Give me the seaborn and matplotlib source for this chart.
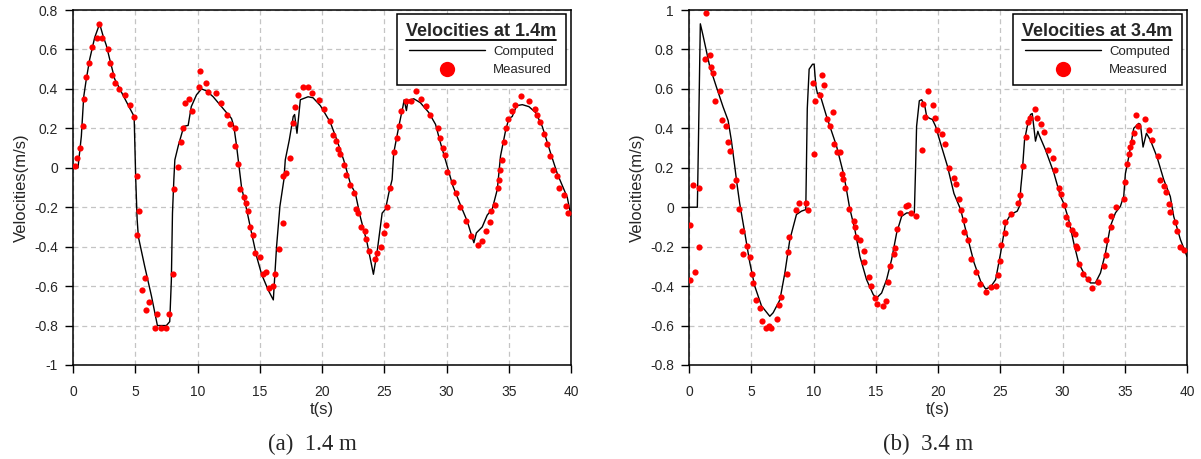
import numpy as np
import pandas as pd
import matplotlib
matplotlib.use("Agg")
import matplotlib.pyplot as plt
from matplotlib.lines import Line2D
import seaborn as sns

# ---------------- data ----------------
# Panel (a) 1.4 m : computed
t_comp_a = [0, 0.4, 0.67, 0.86, 1.07, 1.34, 1.74, 2.14, 2.41, 2.68, 2.95, 3.35, 4.0, 4.91,
            5.04, 5.15, 5.25, 5.76, 6.3, 6.78, 7.5, 7.77, 7.9, 7.99, 8.1, 8.18, 8.45, 8.9,
            9.25, 9.5, 9.92, 10.32, 10.72, 11.26, 12.06, 12.73, 12.92, 13.14, 13.54, 13.94,
            14.34, 14.75, 15.15, 15.68, 16.09, 16.35, 16.62, 16.94, 17.05, 17.37, 17.69, 17.8,
            17.99, 18.26, 18.88, 19.28, 19.87, 20.67, 21.2, 21.74, 22.28, 22.68, 23.08, 23.62,
            24.13, 24.42, 24.83, 25.1, 25.36, 25.63, 25.76, 26.17, 26.5, 26.6, 26.78, 26.9,
            27.37, 27.9, 28.58, 29.12, 29.52, 30.05, 30.5, 31.13, 31.66, 32.2, 32.4, 32.87,
            33.27, 33.67, 34.08, 34.34, 34.75, 35.01, 35.28, 35.63, 36.09, 36.62, 37.16,
            37.69, 38.36, 38.9, 39.7, 40.0]
v_comp_a = [0, 0, 0.16, 0.36, 0.45, 0.55, 0.66, 0.73, 0.67, 0.62, 0.55, 0.45, 0.37, 0.26,
            -0.06, -0.26, -0.35, -0.50, -0.65, -0.80, -0.80, -0.78, -0.57, -0.23, -0.06, 0.04,
            0.11, 0.21, 0.215, 0.31, 0.37, 0.40, 0.39, 0.36, 0.30, 0.25, 0.21, 0.11, -0.10,
            -0.21, -0.33, -0.45, -0.54, -0.62, -0.67, -0.40, -0.195, -0.06, 0.04, 0.14, 0.26,
            0.27, 0.175, 0.345, 0.36, 0.355, 0.315, 0.23, 0.14, 0.04, -0.08, -0.13, -0.25,
            -0.38, -0.54, -0.43, -0.23, -0.21, -0.13, -0.06, 0.075, 0.21, 0.31, 0.345, 0.29,
            0.34, 0.35, 0.33, 0.28, 0.22, 0.125, 0.01, -0.09, -0.19, -0.27, -0.38, -0.33,
            -0.30, -0.24, -0.21, -0.11, 0.06, 0.19, 0.25, 0.26, 0.315, 0.32, 0.31, 0.28,
            0.21, 0.075, -0.03, -0.15, -0.245]

# Panel (a) 1.4 m : measured
t_meas_a = [0.16, 0.32, 0.54, 0.83, 0.88, 1.07, 1.29, 1.53, 1.90, 2.12, 2.33, 2.82, 2.95,
            3.16, 3.40, 3.70, 4.16, 4.58, 4.91, 5.15, 5.28, 5.12, 5.82, 5.58, 6.11, 5.90,
            6.78, 6.62, 7.08, 7.48, 7.75, 8.02, 8.14, 8.45, 8.69, 8.85, 8.98, 9.28, 9.57,
            10.13, 10.19, 10.70, 10.88, 11.45, 11.85, 12.39, 12.60, 12.98, 12.98, 13.27,
            13.43, 13.70, 13.86, 14.02, 14.18, 14.48, 14.58, 15.04, 15.23, 15.47, 15.76,
            16.09, 16.22, 16.51, 16.84, 16.86, 17.13, 17.43, 17.64, 17.80, 18.10, 18.5,
            18.85, 19.2, 19.78, 20.19, 20.62, 20.91, 21.15, 21.31, 21.47, 21.80, 21.93,
            22.22, 22.6, 22.73, 22.9, 23.1, 23.43, 23.5, 23.8, 24.24, 24.42, 24.72, 25.01,
            25.17, 25.23, 25.47, 25.82, 26.03, 26.19, 26.33, 26.73, 27.13, 27.56, 27.99,
            28.34, 28.69, 29.30, 29.46, 29.68, 29.89, 30.05, 30.5, 30.8, 31.1, 31.58, 31.93,
            32.57, 32.87, 33.16, 33.46, 33.54, 33.91, 34.13, 34.2, 34.29, 34.42, 34.58,
            34.75, 34.93, 35.25, 35.47, 36.0, 36.62, 37.08, 37.24, 37.48, 37.83, 38.04,
            38.34, 38.55, 38.87, 39.03, 39.46, 39.57, 39.78]
v_meas_a = [0.01, 0.05, 0.10, 0.21, 0.35, 0.46, 0.53, 0.61, 0.66, 0.73, 0.66, 0.60, 0.53,
            0.47, 0.43, 0.40, 0.37, 0.32, 0.26, -0.04, -0.22, -0.34, -0.56, -0.62, -0.68,
            -0.72, -0.74, -0.81, -0.81, -0.81, -0.74, -0.54, -0.11, 0.005, 0.13, 0.20, 0.33,
            0.35, 0.29, 0.41, 0.49, 0.43, 0.385, 0.38, 0.33, 0.27, 0.22, 0.20, 0.11, 0.02,
            -0.11, -0.15, -0.18, -0.22, -0.30, -0.34, -0.43, -0.45, -0.54, -0.53, -0.61,
            -0.60, -0.54, -0.41, -0.28, -0.044, -0.027, 0.05, 0.225, 0.31, 0.37, 0.41, 0.41,
            0.38, 0.345, 0.30, 0.235, 0.166, 0.134, 0.095, 0.07, 0.012, -0.035, -0.086,
            -0.13, -0.21, -0.23, -0.30, -0.32, -0.36, -0.42, -0.46, -0.43, -0.40, -0.33,
            -0.29, -0.20, -0.10, 0.08, 0.15, 0.21, 0.29, 0.34, 0.34, 0.39, 0.35, 0.315,
            0.27, 0.20, 0.15, 0.10, 0.066, -0.02, -0.07, -0.13, -0.20, -0.27, -0.345, -0.39,
            -0.37, -0.32, -0.275, -0.22, -0.19, -0.10, -0.06, -0.01, 0.04, 0.13, 0.20,
            0.245, 0.29, 0.32, 0.365, 0.34, 0.30, 0.27, 0.23, 0.17, 0.12, 0.06, -0.01,
            -0.04, -0.10, -0.14, -0.195, -0.23]

# Panel (b) 3.4 m : computed
t_comp_b = [0, 0.67, 0.75, 0.91, 1.13, 1.66, 2.2, 2.73, 3.14, 3.4, 3.67, 3.85, 4.07, 4.48,
            4.88, 5.28, 5.82, 6.49, 6.76, 7.3, 7.7, 8.1, 8.63, 9.03, 9.38, 9.5, 9.65, 9.92,
            10.05, 10.19, 10.32, 10.48, 11.05, 11.85, 12.39, 12.6, 12.9, 13.32, 13.73, 14.26,
            14.8, 15.07, 15.47, 15.87, 16.27, 16.68, 17.08, 17.48, 17.88, 18.1, 18.2, 18.28,
            18.5, 18.69, 18.95, 19.09, 19.35, 19.55, 19.81, 20.2, 20.75, 21.28, 21.82, 22.35,
            22.89, 23.42, 23.83, 24.23, 24.63, 25.03, 25.43, 25.83, 26.36, 26.55, 26.65,
            26.76, 26.95, 27.17, 27.43, 27.57, 27.83, 28.02, 28.1, 28.64, 29.3, 29.84, 30.1,
            30.5, 30.9, 31.3, 31.84, 32.24, 32.64, 33.05, 33.45, 33.85, 34.25, 34.65, 34.92,
            35.05, 35.32, 35.72, 36.12, 36.26, 36.47, 36.74, 37.06, 37.59, 38.13, 38.66,
            38.93, 39.47, 40.0]
v_comp_b = [0, 0, 0.3, 0.93, 0.87, 0.715, 0.61, 0.51, 0.44, 0.34, 0.21, 0.12, 0.02, -0.13,
            -0.28, -0.40, -0.50, -0.553, -0.535, -0.47, -0.333, -0.164, -0.037, -0.02,
            -0.012, 0.5, 0.70, 0.725, 0.725, 0.615, 0.575, 0.58, 0.46, 0.31, 0.175, 0.107,
            -0.003, -0.113, -0.25, -0.367, -0.443, -0.46, -0.435, -0.367, -0.266, -0.13,
            -0.046, -0.029, -0.029, -0.029, 0.2, 0.41, 0.54, 0.545, 0.51, 0.46, 0.45, 0.445,
            0.41, 0.325, 0.21, 0.07, -0.012, -0.147, -0.28, -0.375, -0.415, -0.404, -0.367,
            -0.232, -0.08, -0.037, -0.02, 0.005, 0.1, 0.17, 0.34, 0.41, 0.47, 0.475, 0.335,
            0.385, 0.37, 0.29, 0.175, 0.055, 0.02, -0.063, -0.18, -0.283, -0.35, -0.384,
            -0.384, -0.333, -0.232, -0.096, -0.029, 0.005, 0.056, 0.17, 0.255, 0.40, 0.425,
            0.42, 0.305, 0.375, 0.34, 0.255, 0.14, 0.054, -0.046, -0.164, -0.25]

# Panel (b) 3.4 m : measured
t_meas_b = [0.05, 0.08, 0.35, 0.51, 0.83, 0.83, 1.34, 1.29, 1.66, 1.80, 1.96, 2.47, 2.09,
            2.63, 3.0, 3.16, 3.32, 3.78, 3.45, 4.05, 4.26, 4.66, 4.37, 4.9, 5.04, 5.15, 5.42,
            5.71, 5.87, 6.22, 6.43, 6.62, 7.08, 7.24, 7.4, 7.88, 7.99, 8.07, 8.58, 8.87, 9.38,
            9.57, 9.95, 10.0, 10.16, 10.54, 10.7, 10.88, 11.07, 11.29, 11.58, 11.64, 11.88,
            12.14, 12.25, 12.33, 12.56, 12.87, 13.24, 13.35, 13.4, 13.7, 14.02, 14.08, 14.48,
            14.61, 14.9, 15.07, 15.58, 15.82, 15.95, 16.11, 16.46, 16.54, 16.7, 16.94, 17.4,
            17.59, 17.86, 18.23, 18.74, 18.78, 18.99, 19.22, 19.63, 19.79, 19.95, 20.3, 20.53,
            20.91, 21.28, 21.44, 21.68, 21.82, 22.11, 22.11, 22.43, 22.65, 23.02, 23.4, 23.85,
            24.28, 24.68, 24.79, 24.95, 25.1, 25.35, 25.35, 25.86, 26.39, 26.55, 26.85, 27.06,
            27.25, 27.35, 27.8, 27.97, 28.29, 28.5, 28.8, 29.25, 29.41, 29.68, 29.87, 30.16,
            30.27, 30.45, 30.75, 30.99, 31.1, 31.2, 31.36, 31.66, 32.06, 32.33, 32.84, 33.32,
            33.48, 33.5, 33.9, 33.9, 34.33, 34.95, 35.0, 35.21, 35.35, 35.43, 35.56, 35.72,
            35.94, 36.1, 36.63, 36.93, 37.17, 37.65, 37.86, 38.15, 38.31, 38.53, 38.66, 39.0,
            39.2, 39.4, 39.79]
v_meas_b = [-0.367, -0.09, 0.115, -0.33, 0.10, -0.20, 0.986, 0.75, 0.77, 0.71, 0.68, 0.59,
            0.54, 0.44, 0.41, 0.33, 0.285, 0.14, 0.11, -0.01, -0.12, -0.196, -0.237, -0.254,
            -0.34, -0.386, -0.47, -0.51, -0.577, -0.614, -0.60, -0.614, -0.565, -0.496,
            -0.455, -0.337, -0.225, -0.149, -0.014, 0.022, 0.022, -0.014, 0.63, 0.27, 0.54,
            0.57, 0.67, 0.62, 0.445, 0.41, 0.485, 0.32, 0.28, 0.28, 0.17, 0.145, 0.10, -0.01,
            -0.07, -0.10, -0.15, -0.166, -0.22, -0.28, -0.354, -0.40, -0.46, -0.49, -0.50,
            -0.475, -0.377, -0.296, -0.237, -0.206, -0.108, -0.03, 0.007, 0.01, -0.03,
            -0.042, 0.29, 0.525, 0.455, 0.588, 0.52, 0.45, 0.39, 0.37, 0.32, 0.20, 0.15,
            0.12, 0.044, -0.014, -0.066, -0.125, -0.167, -0.262, -0.33, -0.39, -0.43, -0.406,
            -0.40, -0.343, -0.272, -0.19, -0.13, -0.074, -0.035, 0.022, 0.061, 0.21, 0.356,
            0.43, 0.45, 0.50, 0.45, 0.42, 0.38, 0.29, 0.25, 0.19, 0.10, 0.068, 0.01, -0.05,
            -0.085, -0.115, -0.135, -0.196, -0.206, -0.29, -0.34, -0.364, -0.41, -0.377,
            -0.30, -0.24, -0.167, -0.10, -0.042, 0.003, 0.04, 0.13, 0.22, 0.27, 0.305, 0.33,
            0.375, 0.47, 0.41, 0.445, 0.39, 0.34, 0.26, 0.137, 0.11, 0.078, 0.014, -0.025,
            -0.074, -0.122, -0.20, -0.215]

titles = ["Velocities at 1.4m", "Velocities at 3.4m"]
captions = ["(a)  1.4 m", "(b)  3.4 m"]
yticks_a = [-1, -0.8, -0.6, -0.4, -0.2, 0, 0.2, 0.4, 0.6, 0.8]
yticks_b = [-0.8, -0.6, -0.4, -0.2, 0, 0.2, 0.4, 0.6, 0.8, 1]
xticks = [0, 5, 10, 15, 20, 25, 30, 35, 40]

# ---------------- style ----------------
sns.set_theme(style="ticks")
plt.rcParams["font.family"] = ["Liberation Sans", "DejaVu Sans"]

fig = plt.figure(figsize=(12.01, 4.59), dpi=100)
W, H = 1201, 459
ax_a = fig.add_axes([73 / W, 1 - 365 / H, (571 - 73) / W, (365 - 10) / H])
ax_b = fig.add_axes([689 / W, 1 - 365 / H, (1187 - 689) / W, (365 - 10) / H])

panels = [
    (ax_a, t_comp_a, v_comp_a, t_meas_a, v_meas_a, yticks_a, (-1, 0.8)),
    (ax_b, t_comp_b, v_comp_b, t_meas_b, v_meas_b, yticks_b, (-0.8, 1)),
]

legends = []
for i, (ax, tc, vc, tm, vm, yt, ylim) in enumerate(panels):
    comp = pd.DataFrame({"t": tc, "v": vc})
    meas = pd.DataFrame({"t": tm, "v": vm})
    ax.set_axisbelow(True)
    ax.grid(True, linestyle=(0, (4, 3)), color="#c4c4c4", linewidth=0.9)
    sns.lineplot(data=comp, x="t", y="v", ax=ax, color="black", linewidth=1.0,
                 sort=False, estimator=None, zorder=3)
    sns.scatterplot(data=meas, x="t", y="v", ax=ax, color="red", s=20,
                    linewidth=0, zorder=4)
    ax.set_xlim(0, 40)
    ax.set_ylim(*ylim)
    ax.set_xticks(xticks)
    ax.set_yticks(yt)
    ax.set_xticklabels([f"{x:g}" for x in xticks])
    ax.set_yticklabels([f"{y:g}" for y in yt])
    ax.tick_params(direction="out", length=5.8, width=1, labelsize=10, color="black",
                   top=False, right=False)
    ax.tick_params(axis="x", pad=8.5)
    ax.tick_params(axis="y", pad=5)
    for sp in ax.spines.values():
        sp.set_visible(True)
        sp.set_color("black")
        sp.set_linewidth(1.1)
    ax.set_xlabel("t(s)", fontsize=12, labelpad=2.5)
    ax.set_ylabel("Velocities(m/s)", fontsize=12, labelpad=4)

    handles = [Line2D([], [], color="black", linewidth=1.0),
               Line2D([], [], color="red", marker="o", linestyle="none", markersize=11,
                      markeredgewidth=0)]
    leg = ax.legend(handles, ["Computed", "Measured"], title=titles[i],
                    loc="upper right", bbox_to_anchor=(0.989, 0.99),
                    borderaxespad=0, frameon=True, fancybox=False, framealpha=1,
                    edgecolor="black", fontsize=9.5, title_fontsize=13,
                    handlelength=5.8, handletextpad=0.6, labelspacing=0.45,
                    borderpad=0.7)
    leg.get_title().set_fontweight("bold")
    leg.get_frame().set_linewidth(1.1)
    leg.set_zorder(10)
    legends.append(leg)

    # caption under the panel
    bb = ax.get_position()
    fig.text(bb.x0 + bb.width / 2 - 10 / W, 1 - 444 / H, captions[i],
             fontsize=16.5, family=["Liberation Serif", "DejaVu Serif"],
             ha="center", va="center")

# underline legend titles
fig.canvas.draw()
renderer = fig.canvas.get_renderer()
for leg in legends:
    tb = leg.get_title().get_window_extent(renderer)
    y = tb.y0 - 0.5
    fig.add_artist(Line2D([tb.x0 / W, tb.x1 / W], [y / H, y / H],
                          transform=fig.transFigure, color="black", linewidth=1.3,
                          zorder=20))

fig.savefig("out.png", dpi=100)
